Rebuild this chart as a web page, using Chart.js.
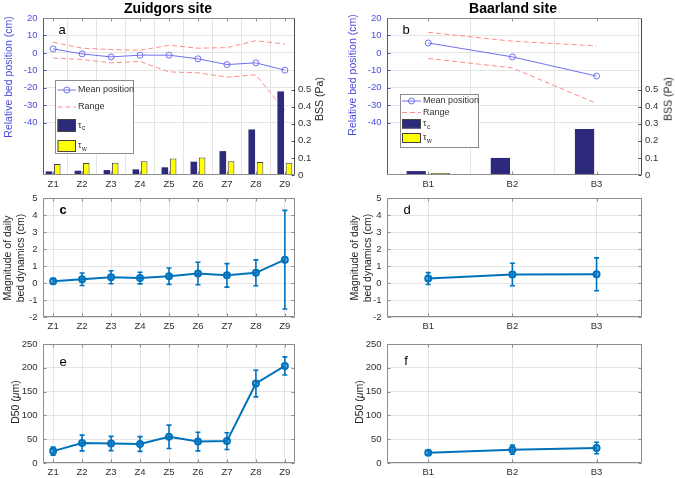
<!DOCTYPE html>
<html>
<head>
<meta charset="utf-8">
<script src="https://cdn.jsdelivr.net/npm/chart.js@4.4.1/dist/chart.umd.min.js"></script>
<style>
  html, body { margin: 0; padding: 0; background: #fff; }
  #fig { position: relative; width: 675px; height: 478px; overflow: hidden; font-family: "Liberation Sans", Arial, sans-serif; }
  #fig canvas { position: absolute; left: 0; top: 0; }
  .txt { position: absolute; transform: translate(-50%, -50%); white-space: nowrap; }
  .rot { position: absolute; transform: translate(-50%, -50%) rotate(-90deg); white-space: nowrap; text-align: center; line-height: 12.7px; }
  .site { font-weight: bold; font-size: 14px; color: #000; }
  .lbl { font-size: 10.5px; color: #262626; }
  .blue { color: #4B4BDC; }
  .tag { font-size: 13px; color: #000; }
</style>
</head>
<body>
<div id="fig">
  <canvas id="chartA" width="675" height="478"></canvas>
  <canvas id="chartB" width="675" height="478"></canvas>
  <canvas id="chartC" width="675" height="478"></canvas>
  <canvas id="chartD" width="675" height="478"></canvas>
  <canvas id="chartE" width="675" height="478"></canvas>
  <canvas id="chartF" width="675" height="478"></canvas>

  <div class="txt site" style="left:168px;top:8px">Zuidgors site</div>
  <div class="txt site" style="left:513px;top:8px">Baarland site</div>

  <div class="rot lbl blue" style="left:8px;top:77px">Relative bed position (cm)</div>
  <div class="rot lbl" style="left:319px;top:99px">BSS (Pa)</div>
  <div class="rot lbl blue" style="left:352px;top:75px">Relative bed position (cm)</div>
  <div class="rot lbl" style="left:668px;top:99px">BSS (Pa)</div>
  <div class="rot lbl" style="left:13.7px;top:258px">Magnitude of daily<br>bed dynamics (cm)</div>
  <div class="rot lbl" style="left:361px;top:258px">Magnitude of daily<br>bed dynamics (cm)</div>
  <div class="rot lbl" style="left:15px;top:402px">D50 (<i>μ</i>m)</div>
  <div class="rot lbl" style="left:359px;top:402px">D50 (<i>μ</i>m)</div>

  <div class="txt tag" style="left:62px;top:29px">a</div>
  <div class="txt tag" style="left:406px;top:29px">b</div>
  <div class="txt tag" style="left:63px;top:209px;font-weight:bold">c</div>
  <div class="txt tag" style="left:407px;top:209px">d</div>
  <div class="txt tag" style="left:63px;top:361px">e</div>
  <div class="txt tag" style="left:406px;top:360px">f</div>
</div>

<script>
// sites and tick labels
const zSites = ['Z1', 'Z2', 'Z3', 'Z4', 'Z5', 'Z6', 'Z7', 'Z8', 'Z9'];
const bSites = ['B1', 'B2', 'B3'];
const posTicks = [20, 10, 0, -10, -20, -30, -40];
const bssTicks = [0, 0.1, 0.2, 0.3, 0.4, 0.5];
const dynTicks = [-2, -1, 0, 1, 2, 3, 4, 5];
const d50Ticks = [0, 50, 100, 150, 200, 250];

// a: Zuidgors bed position (cm) and bed shear stress (Pa)
const zMean = [2.3, -0.6, -2.3, -1.3, -1.3, -3.4, -6.7, -5.7, -9.9];
const zRangeHi = [6.1, 2.7, 1.9, 1.5, 4.4, 2.7, 3.0, 7.0, 5.1];
const zRangeLo = [-2.9, -3.8, -5.7, -4.9, -10.9, -11.4, -13.9, -12.6, -33];
const zTauC = [0.021, 0.025, 0.029, 0.033, 0.045, 0.078, 0.14, 0.267, 0.49];
const zTauW = [0.064, 0.07, 0.072, 0.08, 0.097, 0.103, 0.08, 0.076, 0.072];

// b: Baarland
const bMean = [5.7, -2.3, -13.3];
const bRangeHi = [11.8, 6.7, 4.0];
const bRangeLo = [-3.2, -8.6, -29];
const bTauC = [0.023, 0.10, 0.27];
const bTauW = [0.012, 0.004, 0.004];

// c, d: magnitude of daily bed dynamics (cm), mean and sd
const zDyn = [0.1, 0.22, 0.34, 0.29, 0.4, 0.56, 0.45, 0.6, 1.37];
const zDynSd = [0.17, 0.37, 0.38, 0.34, 0.48, 0.66, 0.69, 0.76, 2.9];
const bDyn = [0.26, 0.5, 0.51];
const bDynSd = [0.35, 0.66, 0.97];

// e, f: D50 (um), mean and sd
const zD50 = [25, 42, 41, 40, 55, 45, 46, 167, 204];
const zD50Sd = [8.5, 16.5, 15, 15.5, 24.5, 19.5, 17.5, 28, 19];
const bD50 = [21.5, 28, 31.5];
const bD50Sd = [5, 9.5, 12];

const W = 675, H = 478;
const FONT = '"Liberation Sans", Arial, sans-serif';
const TICK_FONT = { family: FONT, size: 9.5 };
const TXT = '#303030';
const GRID = '#E4E4E4';
const BOX = '#8C8C8C';
const AXIS_BLUE = '#4B4BDC';
const MEAN_BLUE = '#7070F0';
const RANGE_RED = '#FF8A8A';
const NAVY = '#2D2A7C';
const YELLOW = '#FFFF00';
const LINE_BLUE = '#0072BD';

function xy(vals) {
    return vals.map((v, i) => ({ x: i + 1, y: v }));
}

// puts the chart area at the given page position
function place(area, leftW, rightW) {
    return {
        padding: {
            left: area.l - leftW,
            top: area.t,
            right: W - area.r - rightW,
            bottom: H - area.b - 20
        }
    };
}

function siteScale(sites, range) {
    return {
        type: 'linear', min: range[0], max: range[1], offset: false,
        afterBuildTicks: s => { s.ticks = sites.map((_, i) => ({ value: i + 1 })); },
        afterFit: s => { s.height = 20; },
        ticks: { font: TICK_FONT, color: TXT, padding: 4, autoSkip: false, maxRotation: 0, callback: v => sites[v - 1] },
        grid: { color: GRID, drawTicks: false },
        border: { display: false }
    };
}

function valueScale(list, range, o) {
    return {
        type: 'linear', position: o.position || 'left', min: range[0], max: range[1],
        afterBuildTicks: s => { s.ticks = list.map(v => ({ value: v })); },
        afterFit: s => { s.width = o.width; },
        ticks: { font: TICK_FONT, color: o.color || TXT, padding: o.pad, callback: v => String(v) },
        grid: { color: GRID, drawTicks: false, drawOnChartArea: o.grid !== false },
        border: { display: false }
    };
}

// box round the axes, with short inward ticks
const framePlugin = {
    id: 'frame',
    defaults: { color: BOX },
    afterDatasetsDraw(chart, args, o) {
        const { ctx, chartArea: a, scales } = chart;
        const L = Math.round(a.left) + 0.5, R = Math.round(a.right) - 0.5;
        const T = Math.round(a.top) + 0.5, B = Math.round(a.bottom) - 0.5;
        const tk = 3;
        const seg = (c, x1, y1, x2, y2) => {
            ctx.strokeStyle = c;
            ctx.beginPath(); ctx.moveTo(x1, y1); ctx.lineTo(x2, y2); ctx.stroke();
        };
        ctx.save();
        ctx.lineWidth = 1;
        scales.x.ticks.forEach(t => {
            const px = Math.round(scales.x.getPixelForValue(t.value)) + 0.5;
            seg(o.color, px, B, px, B - tk);
            seg(o.color, px, T, px, T + tk);
        });
        scales.y.ticks.forEach(t => {
            const py = Math.round(scales.y.getPixelForValue(t.value)) + 0.5;
            seg(o.left || o.color, L, py, L + tk, py);
            if (!scales.y2) seg(o.color, R, py, R - tk, py);
        });
        if (scales.y2) {
            scales.y2.ticks.forEach(t => {
                const py = Math.round(scales.y2.getPixelForValue(t.value)) + 0.5;
                seg(o.right || o.color, R, py, R - tk, py);
            });
        }
        seg(o.color, L, T, R, T);
        seg(o.color, L, B, R, B);
        seg(o.left || o.color, L, T, L, B);
        seg(o.right || o.color, R, T, R, B);
        ctx.restore();
    }
};

// vertical error bars from dataset.errors
const errorBarPlugin = {
    id: 'errorBars',
    beforeDatasetsDraw(chart) {
        const ctx = chart.ctx;
        chart.data.datasets.forEach((ds, di) => {
            if (!ds.errors) return;
            const meta = chart.getDatasetMeta(di);
            const ys = chart.scales[meta.yAxisID];
            ctx.save();
            ctx.strokeStyle = ds.borderColor;
            ctx.lineWidth = 1.6;
            meta.data.forEach((pt, i) => {
                const v = ds.data[i].y;
                const top = ys.getPixelForValue(v + ds.errors[i]);
                const bot = ys.getPixelForValue(v - ds.errors[i]);
                ctx.beginPath();
                ctx.moveTo(pt.x, top); ctx.lineTo(pt.x, bot);
                ctx.moveTo(pt.x - 2.5, top); ctx.lineTo(pt.x + 2.5, top);
                ctx.moveTo(pt.x - 2.5, bot); ctx.lineTo(pt.x + 2.5, bot);
                ctx.stroke();
            });
            ctx.restore();
        });
    }
};

// boxed legend inside the axes
const legendPlugin = {
    id: 'boxLegend',
    afterDraw(chart, args, o) {
        if (!o.box) return;
        const ctx = chart.ctx, sets = chart.data.datasets;
        const [bx, by, bw, bh] = o.box;
        const [x0, x1] = o.sample;
        ctx.save();
        ctx.fillStyle = '#fff';
        ctx.fillRect(bx, by, bw, bh);
        ctx.strokeStyle = BOX;
        ctx.lineWidth = 1;
        ctx.strokeRect(bx + 0.5, by + 0.5, bw, bh);
        ctx.textBaseline = 'middle';
        o.rows.forEach(r => {
            const d = sets[r.ds];
            let cy;
            if (d.type === 'line') {
                cy = r.y;
                ctx.strokeStyle = d.borderColor;
                ctx.lineWidth = d.borderWidth;
                ctx.setLineDash(d.borderDash || []);
                ctx.beginPath(); ctx.moveTo(x0, cy); ctx.lineTo(x1, cy); ctx.stroke();
                ctx.setLineDash([]);
                if (d.pointRadius) {
                    ctx.beginPath();
                    ctx.arc((x0 + x1) / 2, cy, d.pointRadius, 0, Math.PI * 2);
                    ctx.stroke();
                }
            } else {
                cy = (r.top + r.bottom) / 2;
                ctx.fillStyle = d.backgroundColor;
                ctx.fillRect(x0, r.top, x1 - x0, r.bottom - r.top);
                ctx.strokeStyle = '#444';
                ctx.strokeRect(x0 + 0.5, r.top + 0.5, x1 - x0 - 1, r.bottom - r.top - 1);
            }
            const [main, sub] = d.label.split('_');
            ctx.fillStyle = TXT;
            ctx.font = `9px ${FONT}`;
            ctx.fillText(main, o.textX, cy);
            if (sub) {
                const w = ctx.measureText(main).width;
                ctx.font = `6.5px ${FONT}`;
                ctx.fillText(sub, o.textX + w + 0.5, cy + 3);
            }
        });
        ctx.restore();
    }
};

Chart.register(framePlugin, errorBarPlugin, legendPlugin);

function baseOptions(area, leftW, rightW) {
    return {
        responsive: false,
        animation: false,
        devicePixelRatio: 1,
        events: [],
        layout: place(area, leftW, rightW),
        plugins: { legend: { display: false }, tooltip: { enabled: false } }
    };
}

function bedChart(id, sites, xRange, area, mean, hi, lo, tauC, tauW, legendOpts) {
    const opts = baseOptions(area, area.l, 40);
    opts.scales = {
        x: siteScale(sites, xRange),
        y: valueScale(posTicks, [-70, 20], { width: area.l, pad: 5.5, color: AXIS_BLUE }),
        y2: valueScale(bssTicks, [0, 0.92], { position: 'right', width: 40, pad: 3, grid: false })
    };
    opts.plugins.frame = { color: BOX, left: AXIS_BLUE, right: '#4a4a4a' };
    opts.plugins.boxLegend = legendOpts;
    new Chart(document.getElementById(id), {
        type: 'bar',
        data: {
            datasets: [
                { type: 'line', label: 'Mean position', data: xy(mean), yAxisID: 'y', order: 1,
                  borderColor: MEAN_BLUE, borderWidth: 1, pointRadius: 3, pointBorderWidth: 1,
                  pointBorderColor: MEAN_BLUE, pointBackgroundColor: 'rgba(0,0,0,0)' },
                { type: 'line', label: 'Range', data: xy(hi), yAxisID: 'y', order: 2,
                  borderColor: RANGE_RED, borderWidth: 1, borderDash: [5, 3], pointRadius: 0 },
                { type: 'line', label: 'Range', data: xy(lo), yAxisID: 'y', order: 2,
                  borderColor: RANGE_RED, borderWidth: 1, borderDash: [5, 3], pointRadius: 0 },
                { label: 'τ_c', data: xy(tauC), yAxisID: 'y2', order: 0,
                  backgroundColor: NAVY, borderWidth: 0, categoryPercentage: 0.5714, barPercentage: 0.8 },
                { label: 'τ_w', data: xy(tauW), yAxisID: 'y2', order: 0,
                  backgroundColor: YELLOW, borderColor: '#444', borderWidth: 1, categoryPercentage: 0.5714, barPercentage: 0.8 }
            ]
        },
        options: opts
    });
}

function statChart(id, sites, xRange, area, ticks, yRange, mean, sd) {
    const opts = baseOptions(area, area.l, 0);
    opts.scales = {
        x: siteScale(sites, xRange),
        y: valueScale(ticks, yRange, { width: area.l - (area.l > 300 ? 340 : 0), pad: 5.5 })
    };
    opts.layout = place(area, area.l - (area.l > 300 ? 340 : 0), 0);
    new Chart(document.getElementById(id), {
        type: 'line',
        data: {
            datasets: [{
                data: xy(mean), errors: sd,
                borderColor: LINE_BLUE, borderWidth: 2,
                pointRadius: 3, pointBorderWidth: 2,
                pointBorderColor: LINE_BLUE, pointBackgroundColor: 'rgba(0,114,189,0.35)'
            }]
        },
        options: opts
    });
}

const zRange = [0.65, 9.35];
const bRange = [0.51, 3.54];

bedChart('chartA', zSites, zRange, { l: 43, t: 18, r: 295, b: 175 }, zMean, zRangeHi, zRangeLo, zTauC, zTauW, {
    box: [55, 80, 78, 73], sample: [57.5, 76], textX: 78,
    rows: [{ ds: 0, y: 90 }, { ds: 1, y: 107 }, { ds: 3, top: 119, bottom: 132 }, { ds: 4, top: 140, bottom: 152 }]
});
bedChart('chartB', bSites, bRange, { l: 387, t: 18, r: 642, b: 175 }, bMean, bRangeHi, bRangeLo, bTauC, bTauW, {
    box: [400, 94, 78, 53], sample: [402, 421], textX: 423,
    rows: [{ ds: 0, y: 101 }, { ds: 1, y: 112.5 }, { ds: 3, top: 119, bottom: 128.5 }, { ds: 4, top: 133, bottom: 143 }]
});

statChart('chartC', zSites, zRange, { l: 43, t: 198, r: 295, b: 317 }, dynTicks, [-2, 5], zDyn, zDynSd);
statChart('chartD', bSites, bRange, { l: 387, t: 198, r: 642, b: 317 }, dynTicks, [-2, 5], bDyn, bDynSd);
statChart('chartE', zSites, zRange, { l: 43, t: 344, r: 295, b: 463 }, d50Ticks, [0, 250], zD50, zD50Sd);
statChart('chartF', bSites, bRange, { l: 387, t: 344, r: 642, b: 463 }, d50Ticks, [0, 250], bD50, bD50Sd);
</script>
</body>
</html>
